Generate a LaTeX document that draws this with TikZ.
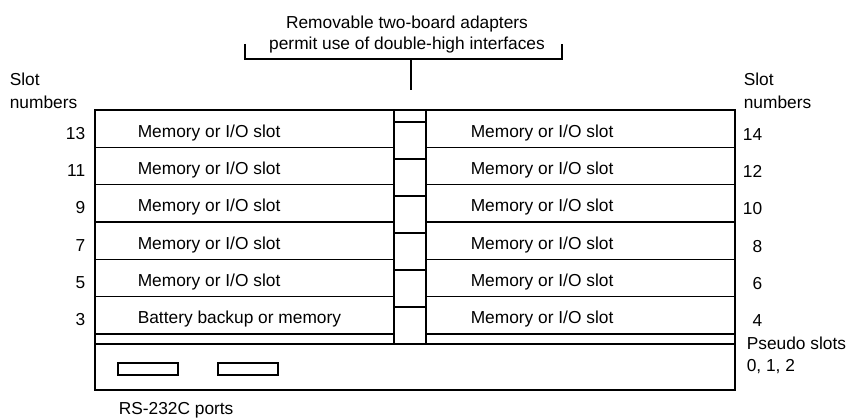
\documentclass[tikz,border=0pt]{standalone}
\usepackage{fontspec}
\setmainfont{Liberation Sans}
\tikzset{every picture/.style={line width=1.2pt}}
\tikzset{lbl/.style={inner sep=0pt, font=\fontsize{13}{16}\selectfont}}
\begin{document}
\begin{tikzpicture}[x=0.75pt,y=0.75pt,yscale=-1,xscale=1]
\useasboundingbox (0,0) rectangle (858,420); %set diagram to 858 x 420

%Outer Rect
\draw (95,110) rectangle (735,390) ;
%Adapter column
\draw (394,110) -- (394,344) ;
\draw (426,110) -- (426,344) ;
\draw (394,122) -- (426,122) ;
\draw (394,159) -- (426,159) ;
\draw (394,196) -- (426,196) ;
\draw (394,233) -- (426,233) ;
\draw (394,270) -- (426,270) ;
\draw (394,307) -- (426,307) ;
%Left row lines
\draw (95,147.33) -- (394,147.33) ;
\draw (95,184.67) -- (394,184.67) ;
\draw (95,222) -- (394,222) ;
\draw (95,259.33) -- (394,259.33) ;
\draw (95,296.67) -- (394,296.67) ;
\draw (95,334) -- (394,334) ;
%Right row lines
\draw (426,147.33) -- (735,147.33) ;
\draw (426,184.67) -- (735,184.67) ;
\draw (426,222) -- (735,222) ;
\draw (426,259.33) -- (735,259.33) ;
\draw (426,296.67) -- (735,296.67) ;
\draw (426,334) -- (735,334) ;
%Pseudo slot line
\draw (95,344) -- (735,344) ;
%Ports
\draw (118,363) rectangle (178,375) ;
\draw (218,363) rectangle (278,375) ;
%Bracket
\draw (245,44) -- (245,59) -- (562,59) -- (562,44) ;
\coordinate (bracketmid) at (411,59) ;
\coordinate (adapterend) at (411,90) ;
\draw (bracketmid) -- (adapterend) ;

% Text Node
\node [lbl, anchor=base] (adapters1) at (407,29) {Removable two-board adapters};
\node [lbl, anchor=base] (adapters2) at (407,50) {permit use of double-high interfaces};
% Text Node
\node [lbl, anchor=base west] (slotl1) at (9,86) {Slot};
\node [lbl, anchor=base west] (slotl2) at (9,109) {numbers};
\node [lbl, anchor=base west] (slotr1) at (743,86) {Slot};
\node [lbl, anchor=base west] (slotr2) at (743,109) {numbers};
% Left numbers
\node [lbl, anchor=base east] (num13) at (86,139.33) {13};
\node [lbl, anchor=base east] (num11) at (86,176.67) {11};
\node [lbl, anchor=base east] (num9) at (86,214) {9};
\node [lbl, anchor=base east] (num7) at (86,251.33) {7};
\node [lbl, anchor=base east] (num5) at (86,288.67) {5};
\node [lbl, anchor=base east] (num3) at (86,326) {3};
% Right numbers
\node [lbl, anchor=base east] (num14) at (763,140.33) {14};
\node [lbl, anchor=base east] (num12) at (763,177.67) {12};
\node [lbl, anchor=base east] (num10) at (763,215) {10};
\node [lbl, anchor=base east] (num8) at (763,252.33) {8};
\node [lbl, anchor=base east] (num6) at (763,289.67) {6};
\node [lbl, anchor=base east] (num4) at (763,327) {4};
% Left slots
\node [lbl, anchor=base west] (slot13) at (137,137.33) {Memory or I/O slot};
\node [lbl, anchor=base west] (slot11) at (137,174.67) {Memory or I/O slot};
\node [lbl, anchor=base west] (slot9) at (137,212) {Memory or I/O slot};
\node [lbl, anchor=base west] (slot7) at (137,249.33) {Memory or I/O slot};
\node [lbl, anchor=base west] (slot5) at (137,286.67) {Memory or I/O slot};
\node [lbl, anchor=base west] (slot3) at (137,324) {Battery backup or memory};
% Right slots
\node [lbl, anchor=base west] (slot14) at (470,137.33) {Memory or I/O slot};
\node [lbl, anchor=base west] (slot12) at (470,174.67) {Memory or I/O slot};
\node [lbl, anchor=base west] (slot10) at (470,212) {Memory or I/O slot};
\node [lbl, anchor=base west] (slot8) at (470,249.33) {Memory or I/O slot};
\node [lbl, anchor=base west] (slot6) at (470,286.67) {Memory or I/O slot};
\node [lbl, anchor=base west] (slot4) at (470,324) {Memory or I/O slot};
% Text Node
\node [lbl, anchor=base west] (pseudo1) at (746,350) {Pseudo slots};
\node [lbl, anchor=base west] (pseudo2) at (746,372) {0, 1, 2};
\node [lbl, anchor=base west] (ports) at (118,415) {RS-232C ports};

\end{tikzpicture}
\end{document}
